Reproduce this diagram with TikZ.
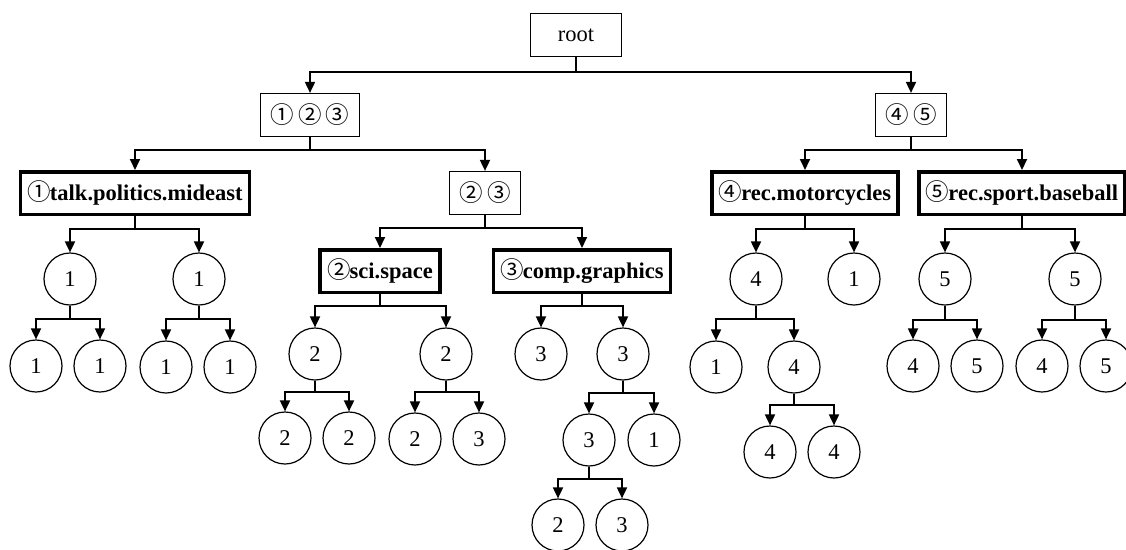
\documentclass[tikz,border=0pt]{standalone}
\usepackage{fontspec}
\setmainfont{Liberation Serif}
\newfontfamily\cjk{Noto Sans CJK SC}
\usepackage{tikz}
\usetikzlibrary{arrows.meta}

\newcommand{\circnum}[1]{{\cjk\mdseries\fontsize{23.5}{26}\selectfont #1}}

\begin{document}
\begin{tikzpicture}[x=1pt,y=-1pt,
  font=\fontsize{22.5}{25}\selectfont,
  grp/.style={draw,line width=1.2pt,minimum height=43pt,inner xsep=10pt},
  cls/.style={draw,line width=3.5pt,minimum height=42.5pt,inner xsep=7pt,font=\fontsize{22.5}{25}\selectfont\bfseries},
  leaf/.style={draw,circle,line width=1.2pt,minimum size=52pt,inner sep=0pt},
  link/.style={line width=1.8pt,-{Triangle[width=10pt,length=11pt]}}]
\useasboundingbox (0,0) rectangle (1126,549);
% upper levels
\draw (576,35) node[grp,minimum width=91pt] (root) {root};
\draw (310,115) node[grp] (g123) {\circnum{①}\kern4pt\circnum{②}\kern4pt\circnum{③}};
\draw (911,115) node[grp] (g45) {\circnum{④}\kern4pt\circnum{⑤}};
\draw (485,193) node[grp] (g23) {\circnum{②}\kern4pt\circnum{③}};
\draw (135,193) node[cls] (mideast) {\circnum{①}\kern-1pt talk.politics.mideast};
\draw (380,271) node[cls] (space) {\circnum{②}\kern-1pt sci.space};
\draw (582,271) node[cls] (graphics) {\circnum{③}\kern-1pt comp.graphics};
\draw (805,193) node[cls] (moto) {\circnum{④}\kern-1pt rec.motorcycles};
\draw (1022,193) node[cls] (baseball) {\circnum{⑤}\kern-1pt rec.sport.baseball};
%
\draw [link] (root.south) -- ++(0,15) -| (g123.north);
\draw [link] (root.south) -- ++(0,15) -| (g45.north);
\draw [link] (g123.south) -- ++(0,13) -| (mideast.north);
\draw [link] (g123.south) -- ++(0,13) -| (g23.north);
\draw [link] (g23.south) -- ++(0,13) -| (space.north);
\draw [link] (g23.south) -- ++(0,13) -| (graphics.north);
\draw [link] (g45.south) -- ++(0,13) -| (moto.north);
\draw [link] (g45.south) -- ++(0,13) -| (baseball.north);
% talk.politics.mideast
\draw (70,279) node[leaf] (a1) {1};
\draw (199,279) node[leaf] (a2) {1};
\draw (36,366) node[leaf] (a11) {1};
\draw (100,366) node[leaf] (a12) {1};
\draw (166,367) node[leaf] (a21) {1};
\draw (230,367) node[leaf] (a22) {1};
\draw [link] (mideast.south) -- ++(0,13) -| (a1.north);
\draw [link] (mideast.south) -- ++(0,13) -| (a2.north);
\draw [link] (a1.south) -- ++(0,13) -| (a11.north);
\draw [link] (a1.south) -- ++(0,13) -| (a12.north);
\draw [link] (a2.south) -- ++(0,13) -| (a21.north);
\draw [link] (a2.south) -- ++(0,13) -| (a22.north);
% sci.space
\draw (315,354) node[leaf] (b1) {2};
\draw (446,354) node[leaf] (b2) {2};
\draw (285,438) node[leaf] (b11) {2};
\draw (349,438) node[leaf] (b12) {2};
\draw (415,439) node[leaf] (b21) {2};
\draw (479,439) node[leaf] (b22) {3};
\draw [link] (space.south) -- ++(0,12) -| (b1.north);
\draw [link] (space.south) -- ++(0,12) -| (b2.north);
\draw [link] (b1.south) -- ++(0,11) -| (b11.north);
\draw [link] (b1.south) -- ++(0,11) -| (b12.north);
\draw [link] (b2.south) -- ++(0,11) -| (b21.north);
\draw [link] (b2.south) -- ++(0,11) -| (b22.north);
% comp.graphics
\draw (541,354) node[leaf] (c1) {3};
\draw (623,354) node[leaf] (c2) {3};
\draw (589,440) node[leaf] (c21) {3};
\draw (654,440) node[leaf] (c22) {1};
\draw (558,525) node[leaf] (c211) {2};
\draw (622,525) node[leaf] (c212) {3};
\draw [link] (graphics.south) -- ++(0,12) -| (c1.north);
\draw [link] (graphics.south) -- ++(0,12) -| (c2.north);
\draw [link] (c2.south) -- ++(0,12) -| (c21.north);
\draw [link] (c2.south) -- ++(0,12) -| (c22.north);
\draw [link] (c21.south) -- ++(0,12) -| (c211.north);
\draw [link] (c21.south) -- ++(0,12) -| (c212.north);
% rec.motorcycles
\draw (756,279) node[leaf] (d1) {4};
\draw (854,279) node[leaf] (d2) {1};
\draw (716,367) node[leaf] (d11) {1};
\draw (794,367) node[leaf] (d12) {4};
\draw (770,452) node[leaf] (d121) {4};
\draw (834,452) node[leaf] (d122) {4};
\draw [link] (moto.south) -- ++(0,13) -| (d1.north);
\draw [link] (moto.south) -- ++(0,13) -| (d2.north);
\draw [link] (d1.south) -- ++(0,13) -| (d11.north);
\draw [link] (d1.south) -- ++(0,13) -| (d12.north);
\draw [link] (d12.south) -- ++(0,11) -| (d121.north);
\draw [link] (d12.south) -- ++(0,11) -| (d122.north);
% rec.sport.baseball
\draw (945,279) node[leaf] (e1) {5};
\draw (1075,279) node[leaf] (e2) {5};
\draw (913,366) node[leaf] (e11) {4};
\draw (977,366) node[leaf] (e12) {5};
\draw (1042,366) node[leaf] (e21) {4};
\draw (1106,366) node[leaf] (e22) {5};
\draw [link] (baseball.south) -- ++(0,13) -| (e1.north);
\draw [link] (baseball.south) -- ++(0,13) -| (e2.north);
\draw [link] (e1.south) -- ++(0,14) -| (e11.north);
\draw [link] (e1.south) -- ++(0,14) -| (e12.north);
\draw [link] (e2.south) -- ++(0,14) -| (e21.north);
\draw [link] (e2.south) -- ++(0,14) -| (e22.north);
\end{tikzpicture}
\end{document}
